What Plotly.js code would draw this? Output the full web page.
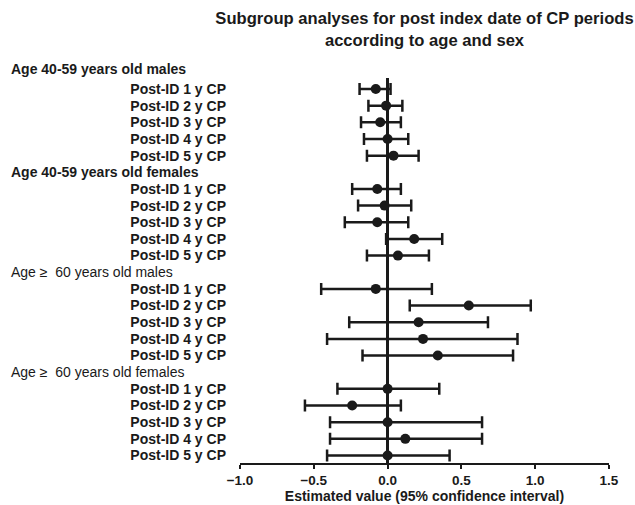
<!DOCTYPE html>
<html>
<head>
<meta charset="utf-8">
<script src="https://cdn.plot.ly/plotly-3.0.1.min.js"></script>
<style>html,body{margin:0;padding:0;background:#fff;}#chart{width:635px;height:505px;}</style>
</head>
<body>
<div id="chart"></div>
<script>
// ---- Data ----
const groupNames = [
  "Age 40-59 years old males",
  "Age 40-59 years old females",
  "Age \u2265\u00a0 60 years old males",
  "Age \u2265\u00a0 60 years old females"
];
const periodLabels = ["Post-ID 1 y CP", "Post-ID 2 y CP", "Post-ID 3 y CP", "Post-ID 4 y CP", "Post-ID 5 y CP"];

const estMales4059   = [-0.08, -0.01, -0.05, 0.00, 0.04];
const lowMales4059   = [-0.19, -0.13, -0.18, -0.16, -0.14];
const highMales4059  = [0.02, 0.10, 0.09, 0.14, 0.21];

const estFemales4059  = [-0.07, -0.02, -0.07, 0.18, 0.07];
const lowFemales4059  = [-0.24, -0.20, -0.29, -0.01, -0.14];
const highFemales4059 = [0.09, 0.16, 0.14, 0.37, 0.28];

const estMales60   = [-0.08, 0.55, 0.21, 0.24, 0.34];
const lowMales60   = [-0.45, 0.15, -0.26, -0.41, -0.17];
const highMales60  = [0.30, 0.97, 0.68, 0.88, 0.85];

const estFemales60  = [0.00, -0.24, 0.00, 0.12, 0.00];
const lowFemales60  = [-0.34, -0.56, -0.39, -0.39, -0.41];
const highFemales60 = [0.35, 0.09, 0.64, 0.64, 0.42];

const xTicks = [-1.0, -0.5, 0.0, 0.5, 1.0, 1.5];

// ---- Build chart ----
const groups = [
  [estMales4059, lowMales4059, highMales4059],
  [estFemales4059, lowFemales4059, highFemales4059],
  [estMales60, lowMales60, highMales60],
  [estFemales60, lowFemales60, highFemales60]
];
const ink = "#1a1a1a";
const FONT = "Liberation Sans, Arial, sans-serif";
const slotsPerGroup = periodLabels.length + 1;
const yRange = [23.45, 0.34];

const traces = [];
const tickvals = [], ticktext = [];
const annotations = [];
groups.forEach(function (g, gi) {
  const est = g[0], lo = g[1], hi = g[2];
  const ys = est.map(function (_, i) { return gi * slotsPerGroup + i + 1; });
  ys.forEach(function (y, i) { tickvals.push(y); ticktext.push(periodLabels[i]); });
  traces.push({
    type: "scatter", mode: "markers",
    x: est, y: ys,
    marker: {size: 10, color: ink},
    error_x: {
      type: "data", symmetric: false,
      array: est.map(function (v, i) { return hi[i] - v; }),
      arrayminus: est.map(function (v, i) { return v - lo[i]; }),
      color: ink, thickness: 2.5, width: 6
    },
    showlegend: false, hoverinfo: "x+y"
  });
  const bold = gi < 2;
  const slot = gi * slotsPerGroup;
  annotations.push({
    xref: "paper", yref: "paper", x: -0.626,
    y: (yRange[0] - slot) / (yRange[0] - yRange[1]),
    xanchor: "left", yanchor: "middle", showarrow: false,
    yshift: gi === 0 ? 3 : 0,
    text: groupNames[gi],
    font: {family: FONT, size: 14, color: ink, weight: bold ? "bold" : "normal"}
  });
});

const layout = {
  width: 635, height: 505,
  margin: {l: 240, r: 26, t: 78, b: 41.5, pad: 0},
  paper_bgcolor: "#ffffff", plot_bgcolor: "#ffffff",
  title: {
    text: "Subgroup analyses for post index date of CP periods<br>according to age and sex",
    font: {family: FONT, size: 16.6, color: ink, weight: "bold"},
    x: 0.5, xref: "paper", xanchor: "center",
    y: 0.952, yref: "container", yanchor: "top"
  },
  xaxis: {
    range: [-1, 1.5], tickvals: xTicks, tickformat: ".1f",
    showline: true, linewidth: 2, linecolor: ink, mirror: false,
    ticks: "outside", ticklen: 4, tickwidth: 2, tickcolor: ink,
    showgrid: false, zeroline: true, zerolinewidth: 2.5, zerolinecolor: ink,
    tickfont: {family: FONT, size: 13.5, color: ink, weight: "bold"},
    title: {text: "Estimated value (95% confidence interval)", standoff: 1,
            font: {family: FONT, size: 14, color: ink, weight: "bold"}},
    fixedrange: true
  },
  yaxis: {
    range: yRange, tickvals: tickvals, ticktext: ticktext,
    showline: false, showgrid: false, zeroline: false, ticks: "",
    ticklabelstandoff: 13,
    tickfont: {family: FONT, size: 14, color: ink, weight: "bold"},
    fixedrange: true
  },
  annotations: annotations
};

Plotly.newPlot("chart", traces, layout, {displayModeBar: false, staticPlot: true});
</script>
</body>
</html>
